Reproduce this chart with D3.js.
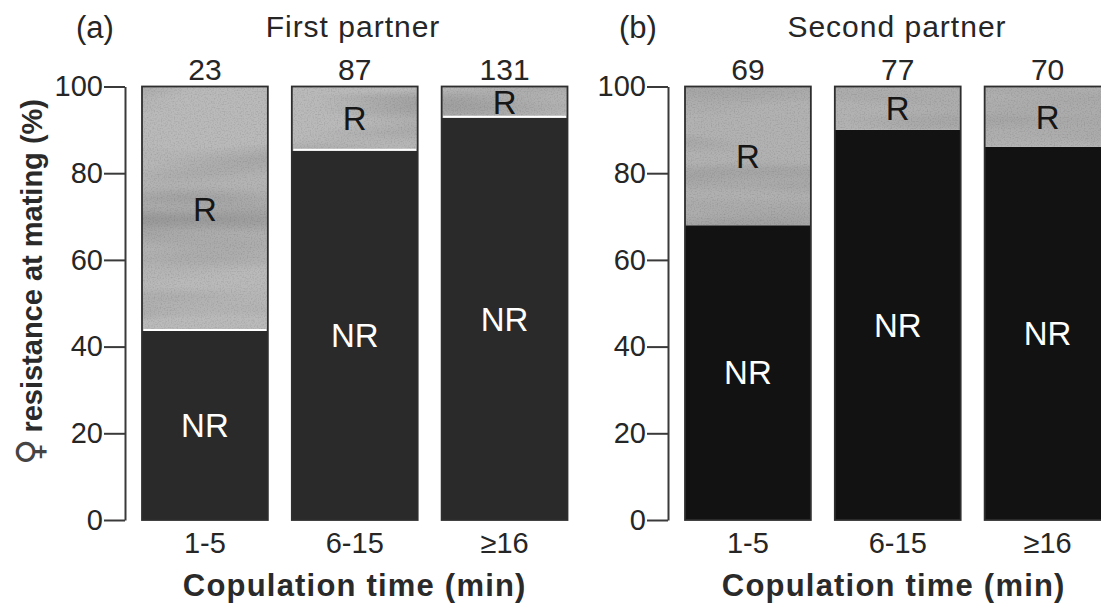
<!DOCTYPE html>
<html>
<head>
<meta charset="utf-8">
<script src="https://cdn.jsdelivr.net/npm/d3@7"></script>
<style>
  html, body { margin: 0; padding: 0; background: #fff; }
  svg { display: block; font-family: "Liberation Sans", Arial, sans-serif; }
</style>
</head>
<body>
<svg id="chart" width="1101" height="605"></svg>
<script>
// ---- data ----
const categories = ["1-5", "6-15", "\u226516"];
const firstNR = [43.6, 85.2, 92.8];     // % non-resistant, first partner
const secondNR = [68.0, 90.0, 86.1];    // % non-resistant, second partner
const firstN = [23, 87, 131];
const secondN = [69, 77, 70];
const yTicks = [0, 20, 40, 60, 80, 100];
const panelLetters = ["(a)", "(b)"];
const panelTitles = ["First partner", "Second partner"];
const xTitle = "Copulation time (min)";
const yTitle = "resistance at mating (%)";

// ---- layout ----
const svg = d3.select("#chart");
const y = d3.scaleLinear().domain([0, 100]).range([520, 86.5]);

const defs = svg.append("defs");
function noiseFilter(id, seed, bandOp, grainOp) {
  const f = defs.append("filter").attr("id", id)
    .attr("x", 0).attr("y", 0).attr("width", 1).attr("height", 1);
  // horizontal banding
  f.append("feTurbulence").attr("type", "fractalNoise")
    .attr("baseFrequency", "0.003 0.03").attr("numOctaves", 2).attr("seed", seed).attr("result", "b");
  f.append("feColorMatrix").attr("in", "b").attr("type", "matrix")
    .attr("values", `0 0 0 0 0  0 0 0 0 0  0 0 0 0 0  ${bandOp} 0 0 0 ${-bandOp * 0.45}`).attr("result", "ba");
  // fine grain
  f.append("feTurbulence").attr("type", "fractalNoise")
    .attr("baseFrequency", "0.7").attr("numOctaves", 1).attr("seed", seed + 11).attr("result", "g");
  f.append("feColorMatrix").attr("in", "g").attr("type", "matrix")
    .attr("values", `0 0 0 0 0  0 0 0 0 0  0 0 0 0 0  ${grainOp} 0 0 0 ${-grainOp * 0.45}`).attr("result", "ga");
  const m = f.append("feMerge").attr("result", "all");
  m.append("feMergeNode").attr("in", "ba");
  m.append("feMergeNode").attr("in", "ga");
  f.append("feComposite").attr("in", "all").attr("in2", "SourceGraphic").attr("operator", "in").attr("result", "c");
  const m2 = f.append("feMerge");
  m2.append("feMergeNode").attr("in", "SourceGraphic");
  m2.append("feMergeNode").attr("in", "c");
}
noiseFilter("noiseA", 3, 0.9, 0.6);
noiseFilter("noiseB", 7, 0.8, 0.6);

const panels = [
  { nr: firstNR, n: firstN, axisX: 125, range: [142, 567.5], nrColor: "#2a2a2a", rColor: "#bababa",
    letterX: 95, titleX: 353, sep: true, filter: "noiseA" },
  { nr: secondNR, n: secondN, axisX: 668, range: [685, 1110.5], nrColor: "#121212", rColor: "#b2b2b2",
    letterX: 638, titleX: 897, sep: false, filter: "noiseB" }
];

const textColor = "#262626";

panels.forEach((p, pi) => {
  const g = svg.append("g");
  const x = d3.scaleBand().domain(categories).range(p.range).paddingInner(0.16).paddingOuter(0);
  const bw = x.bandwidth();

  const rows = categories.map((c, i) => ({ c, nr: p.nr[i], r: 100 - p.nr[i], n: p.n[i] }));

  // NR segments
  g.selectAll("rect.nr").data(rows).join("rect").attr("class", "nr")
    .attr("x", d => x(d.c)).attr("width", bw)
    .attr("y", d => y(d.nr)).attr("height", d => y(0) - y(d.nr))
    .attr("fill", p.nrColor);

  // R segments
  g.selectAll("rect.r").data(rows).join("rect").attr("class", "r")
    .attr("x", d => x(d.c)).attr("width", bw)
    .attr("y", y(100)).attr("height", d => y(d.nr) - y(100))
    .attr("fill", p.rColor).attr("filter", `url(#${p.filter})`);

  // separator line (white) between R and NR
  if (p.sep) {
    g.selectAll("line.sep").data(rows).join("line").attr("class", "sep")
      .attr("x1", d => x(d.c) + 1.5).attr("x2", d => x(d.c) + bw - 1.5)
      .attr("y1", d => y(d.nr) - 1).attr("y2", d => y(d.nr) - 1)
      .attr("stroke", "#fff").attr("stroke-width", 2);
  }

  // bar outlines
  g.selectAll("rect.outline").data(rows).join("rect").attr("class", "outline")
    .attr("x", d => x(d.c)).attr("width", bw)
    .attr("y", y(100)).attr("height", y(0) - y(100))
    .attr("fill", "none").attr("stroke", "#2e2e2e").attr("stroke-width", 1.8);

  // R labels
  g.selectAll("text.rl").data(rows).join("text").attr("class", "rl")
    .attr("x", d => x(d.c) + bw / 2).attr("y", d => (y(100) + y(d.nr)) / 2)
    .attr("dy", "0.36em").attr("text-anchor", "middle")
    .attr("font-size", 33).attr("fill", "#161616").text("R");

  // NR labels
  g.selectAll("text.nrl").data(rows).join("text").attr("class", "nrl")
    .attr("x", d => x(d.c) + bw / 2).attr("y", d => (y(d.nr) + y(0)) / 2)
    .attr("dy", "0.36em").attr("text-anchor", "middle")
    .attr("font-size", 33).attr("fill", "#fff").text("NR");

  // counts above bars
  g.selectAll("text.cnt").data(rows).join("text").attr("class", "cnt")
    .attr("x", d => x(d.c) + bw / 2).attr("y", 80)
    .attr("text-anchor", "middle").attr("font-size", 30).attr("fill", textColor)
    .text(d => d.n);

  // y axis
  const ya = g.append("g").attr("transform", `translate(${p.axisX},0)`)
    .call(d3.axisLeft(y).tickValues(yTicks).tickSize(21).tickSizeOuter(0).tickPadding(1));
  ya.select(".domain").attr("stroke", "#3a3a3a").attr("stroke-width", 2);
  ya.selectAll(".tick line").attr("stroke", "#3a3a3a").attr("stroke-width", 2);
  ya.selectAll(".tick text").attr("font-size", 29).attr("fill", textColor)
    .attr("font-family", "Liberation Sans, Arial, sans-serif");

  // x axis labels
  const xa = g.append("g").attr("transform", `translate(0,${y(0)})`)
    .call(d3.axisBottom(x).tickSize(0).tickPadding(12));
  xa.select(".domain").remove();
  xa.selectAll(".tick text").attr("font-size", 29).attr("fill", textColor)
    .attr("font-family", "Liberation Sans, Arial, sans-serif");

  // x title
  g.append("text").attr("x", (p.range[0] + x(categories[2]) + bw) / 2 - (pi === 1 ? 4 : 0))
    .attr("y", 596).attr("text-anchor", "middle")
    .attr("font-size", 31).attr("font-weight", "bold").attr("letter-spacing", 1.2)
    .attr("fill", "#2a2a2a").text(xTitle);

  // panel letter & title
  g.append("text").attr("x", p.letterX).attr("y", 38).attr("text-anchor", "middle")
    .attr("font-size", 31).attr("fill", textColor).text(panelLetters[pi]);
  g.append("text").attr("x", p.titleX).attr("y", 37).attr("text-anchor", "middle")
    .attr("font-size", 30).attr("letter-spacing", 1).attr("fill", textColor).text(panelTitles[pi]);
});

// y-axis title
const yt = svg.append("text").attr("transform", "translate(42,282) rotate(-90)")
  .attr("text-anchor", "middle").attr("fill", "#2a2a2a");
yt.append("tspan").attr("font-size", 36).attr("font-family", "DejaVu Sans").attr("font-weight", "normal")
  .attr("fill", "#444").text("\u2640");
yt.append("tspan").attr("font-size", 29).attr("font-weight", "bold").attr("dx", 6).text(yTitle);
</script>
</body>
</html>
